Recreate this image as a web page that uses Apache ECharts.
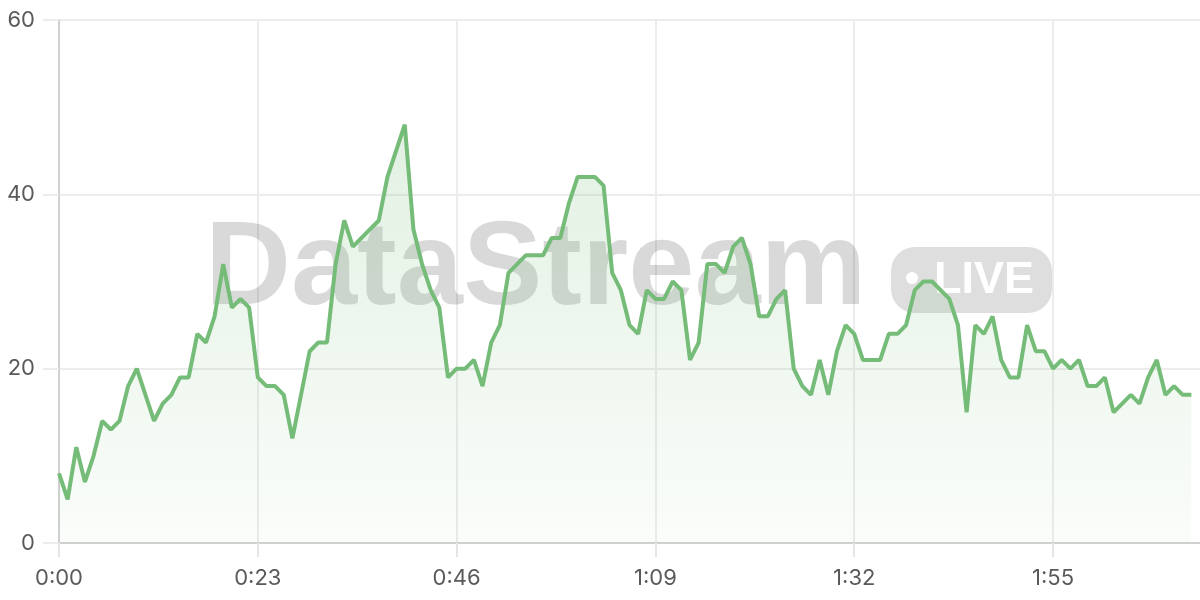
<!DOCTYPE html>
<html>
<head>
<meta charset="utf-8">
<script src="https://cdn.jsdelivr.net/npm/echarts@6/dist/echarts.min.js"></script>
<style>
html,body{margin:0;padding:0;background:#fff;}
#chart{width:1200px;height:600px;}
</style>
</head>
<body>
<div id="chart"></div>
<script>
// number of seconds on the time axis (0:00 .. 2:12)
const axisSeconds = 133;
// values, one per second starting at 0:00
const values = [
  8, 5, 11, 7, 10, 14, 13, 14, 18, 20,
  17, 14, 16, 17, 19, 19, 24, 23, 26, 32,
  27, 28, 27, 19, 18, 18, 17, 12, 17, 22,
  23, 23, 32, 37, 34, 35, 36, 37, 42, 45,
  48, 36, 32, 29, 27, 19, 20, 20, 21, 18,
  23, 25, 31, 32, 33, 33, 33, 35, 35, 39,
  42, 42, 42, 41, 31, 29, 25, 24, 29, 28,
  28, 30, 29, 21, 23, 32, 32, 31, 34, 35,
  32, 26, 26, 28, 29, 20, 18, 17, 21, 17,
  22, 25, 24, 21, 21, 21, 24, 24, 25, 29,
  30, 30, 29, 28, 25, 15, 25, 24, 26, 21,
  19, 19, 25, 22, 22, 20, 21, 20, 21, 18,
  18, 19, 15, 16, 17, 16, 19, 21, 17, 18,
  17, 17
];
const yTicks = [0, 20, 40, 60];
const watermarkTitle = 'DataStream';
const watermarkBadge = 'LIVE';

function fmt(s) {
  const m = Math.floor(s / 60);
  const r = s % 60;
  return m + ':' + (r < 10 ? '0' : '') + r;
}
const categories = [];
for (let s = 0; s < axisSeconds; s++) categories.push(fmt(s));

const green = '#76bc79';
const chart = echarts.init(document.getElementById('chart'));
chart.setOption({
  animation: false,
  grid: { left: 59, right: 0, top: 20, bottom: 57 },
  xAxis: {
    type: 'category',
    data: categories,
    boundaryGap: false,
    axisLine: { lineStyle: { color: '#d0d0d0', width: 2 } },
    axisTick: { show: true, interval: 22, length: 14, lineStyle: { color: '#e6e6e6', width: 2 } },
    axisLabel: { interval: 22, color: '#5a5a5a', fontFamily: 'Inter', fontSize: 22, margin: 24 },
    splitLine: { show: true, interval: 22, lineStyle: { color: '#ececec', width: 2 } }
  },
  yAxis: {
    type: 'value',
    min: yTicks[0],
    max: yTicks[yTicks.length - 1],
    interval: yTicks[1] - yTicks[0],
    axisLine: { show: true, lineStyle: { color: '#d0d0d0', width: 2 } },
    axisTick: { show: true, length: 16, lineStyle: { color: '#ececec', width: 2 } },
    axisLabel: { color: '#5a5a5a', fontFamily: 'Inter', fontSize: 22, margin: 24 },
    splitLine: { show: true, lineStyle: { color: '#ececec', width: 2 } }
  },
  graphic: [
    {
      type: 'text',
      left: 205,
      top: 212,
      z: 1,
      style: {
        text: watermarkTitle,
        font: 'bold 119px "Liberation Sans"',
        fill: 'rgba(0,0,0,0.15)'
      }
    },
    {
      type: 'rect',
      left: 891,
      top: 247,
      z: 1,
      shape: { width: 161, height: 66, r: 24 },
      style: { fill: 'rgba(0,0,0,0.13)' }
    },
    {
      type: 'circle',
      left: 906,
      top: 272,
      z: 2,
      shape: { r: 6 },
      style: { fill: '#ffffff' }
    },
    {
      type: 'text',
      left: 934,
      top: 258,
      z: 2,
      style: {
        text: watermarkBadge,
        font: 'bold 45px "Liberation Sans"',
        fill: '#ffffff'
      }
    }
  ],
  series: [{
    type: 'line',
    data: values,
    symbol: 'none',
    z: 5,
    lineStyle: { color: green, width: 4 },
    areaStyle: {
      color: new echarts.graphic.LinearGradient(0, 0, 0, 1, [
        { offset: 0, color: 'rgba(118,188,121,0.3)' },
        { offset: 1, color: 'rgba(118,188,121,0.05)' }
      ])
    }
  }]
});
</script>
</body>
</html>
